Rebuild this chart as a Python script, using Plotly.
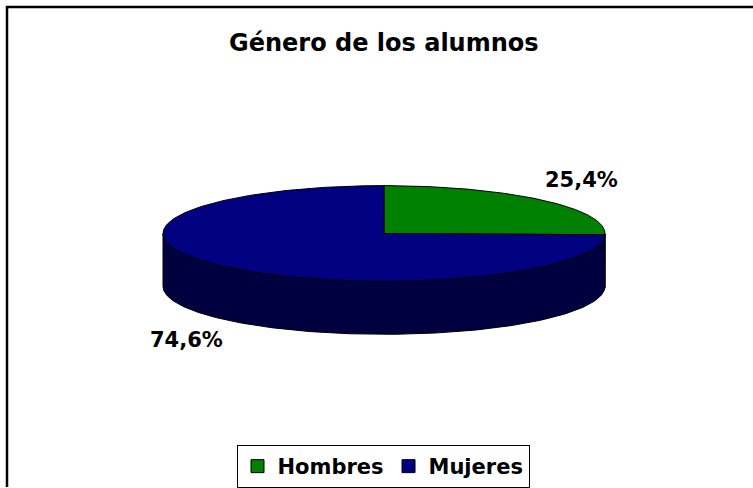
import numpy as np
import plotly.graph_objects as go

# ---- data ----
labels = ["Hombres", "Mujeres"]
values = [25.4, 74.6]
top_colors = ["#008000", "#000080"]
side_colors = ["#004000", "#000040"]
title_text = "Género de los alumnos"

# ---- geometry of the 3D ellipse (pixel coordinates) ----
CX, CY, RX, RY, DEPTH = 384, 234, 221, 48, 53
FONT = "DejaVu Sans, Liberation Sans, Arial, sans-serif"


def arc(a, b, n=200, dy=0.0):
    t = np.linspace(a, b, n)
    return CX + RX * np.sin(t), CY - RY * np.cos(t) + dy


total = sum(values)
fracs = [v / total for v in values]
starts = np.concatenate([[0.0], np.cumsum(fracs)[:-1]]) * 2 * np.pi
ends = np.cumsum(fracs) * 2 * np.pi

fig = go.Figure()

# side walls (only the front, visible half: pi/2 .. 3pi/2)
for lab, a, b, col in zip(labels, starts, ends, side_colors):
    lo, hi = max(a, np.pi / 2), min(b, 3 * np.pi / 2)
    if hi <= lo:
        continue
    xt, yt = arc(lo, hi)
    xb, yb = arc(lo, hi, dy=DEPTH)
    xs = np.concatenate([xt, xb[::-1], xt[:1]])
    ys = np.concatenate([yt, yb[::-1], yt[:1]])
    fig.add_trace(go.Scatter(x=xs, y=ys, mode="lines", fill="toself",
                             fillcolor=col, line=dict(color="black", width=1),
                             showlegend=False, hoverinfo="skip"))

# top faces
for lab, v, a, b, col in zip(labels, values, starts, ends, top_colors):
    xa, ya = arc(a, b)
    xs = np.concatenate([[CX], xa, [CX]])
    ys = np.concatenate([[CY], ya, [CY]])
    fig.add_trace(go.Scatter(x=xs, y=ys, mode="lines", fill="toself",
                             fillcolor=col, line=dict(color="black", width=1),
                             showlegend=False, name=lab,
                             hoveron="fills", hoverinfo="name"))

# percentage labels, placed outside each slice
annotations = []
for v, a, b in zip(values, starts, ends):
    m = (a + b) / 2
    lx = CX + 1.25 * RX * np.sin(m)
    ly = CY - 1.6 * RY * np.cos(m) + (DEPTH if np.cos(m) < 0 else 0)
    annotations.append(dict(x=lx, y=ly, xref="x", yref="y",
                            text=f"{v:.1f}%".replace(".", ","), showarrow=False,
                            font=dict(family=FONT, size=21, color="black", weight="bold"),
                            xanchor="center", yanchor="middle"))

annotations.append(dict(x=384, y=43, xref="x", yref="y", text=title_text,
                        showarrow=False,
                        font=dict(family=FONT, size=24, color="black", weight="bold"),
                        xanchor="center", yanchor="middle"))

# legend entries
for lab, col in zip(labels, top_colors):
    fig.add_trace(go.Scatter(x=[None], y=[None], mode="markers", name=lab,
                             marker=dict(symbol="square", size=13, color=col,
                                         line=dict(color="black", width=1))))

fig.update_layout(
    width=753, height=488,
    margin=dict(l=0, r=0, t=0, b=0),
    paper_bgcolor="white", plot_bgcolor="white",
    xaxis=dict(range=[0, 753], visible=False, fixedrange=True),
    yaxis=dict(range=[488, 0], visible=False, fixedrange=True),
    annotations=annotations,
    showlegend=True,
    legend=dict(orientation="h", x=383 / 753, y=1 - 467 / 488,
                xanchor="center", yanchor="middle",
                bordercolor="black", borderwidth=1, bgcolor="white",
                font=dict(family=FONT, size=21, color="black", weight="bold"),
                itemwidth=30, tracegroupgap=0),
    shapes=[dict(type="rect", xref="x", yref="y", x0=7, y0=7, x1=760, y1=495,
                 line=dict(color="black", width=2.5))],
)

fig.write_html(
    "out.html",
    config={"displayModeBar": False},
    post_script="document.body.style.margin='0';document.body.style.overflow='hidden';",
)
